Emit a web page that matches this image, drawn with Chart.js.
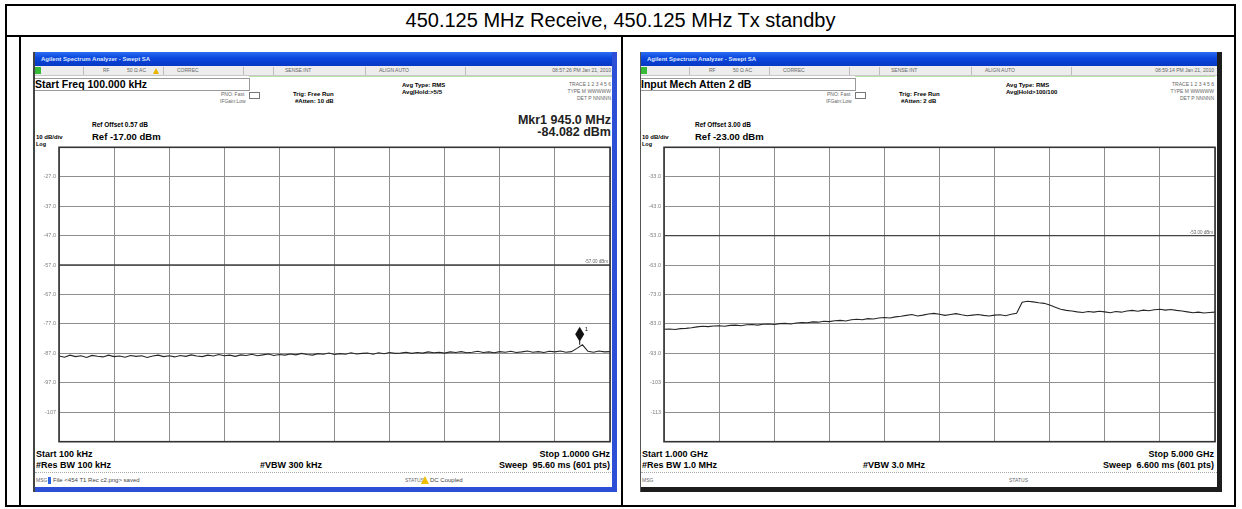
<!DOCTYPE html>
<html>
<head>
<meta charset="utf-8">
<script src="https://cdn.jsdelivr.net/npm/chart.js@4.4.0/dist/chart.umd.min.js"></script>
<style>
  html, body { margin: 0; padding: 0; background: #fff; }
  body { width: 1242px; height: 509px; position: relative; overflow: hidden; font-family: "Liberation Sans", Arial, sans-serif; }
  .abs { position: absolute; }
  .t { position: absolute; white-space: nowrap; line-height: 1; color: #000; }
  .r { text-align: right; }
  .b { font-weight: bold; }
  .tiny { font-size: 5px; color: #666; }
  .shot { position: absolute; background: #fff; overflow: hidden; }
  .titlebar { position: absolute; left: 0; top: 0; right: 0; height: 14px;
    background: linear-gradient(#2d6ef2, #0a46dc 45%, #0738c4); }
  .toolbar { position: absolute; left: 0; top: 14px; right: 0; height: 9px; background: #ededed; border-bottom: 1px solid #c8c8c8; }
  .sep { position: absolute; top: 15px; width: 1px; height: 8px; background: #bdbdbd; }
  .afbox { position: absolute; left: 0; top: 26px; width: 214px; height: 11px; border: 1px solid #9a9a9a; border-left: none; }
  .dots { position: absolute; left: 0; top: 420px; width: 576px; border-top: 1px dotted #a8a8a8; }
  canvas { position: absolute; }
</style>
</head>
<body>

<!-- table grid -->
<div class="abs" style="left:5px;top:4px;width:1231px;height:503px;border:2px solid #000;box-sizing:border-box;"></div>
<div class="abs" style="left:5px;top:35px;width:1231px;height:2px;background:#000;"></div>
<div class="abs" style="left:19px;top:35px;width:2px;height:472px;background:#000;"></div>
<div class="abs" style="left:621px;top:35px;width:2px;height:472px;background:#000;"></div>
<div class="t" style="left:5px;top:10px;width:1231px;text-align:center;font-size:20px;">450.125 MHz Receive, 450.125 MHz Tx standby</div>

<!-- left analyzer screen -->
<div class="shot" id="shotL" style="left:33px;top:52px;width:584px;height:440px;border-left:2px solid #444;box-sizing:border-box;">
  <div class="titlebar"></div>
  <div class="t b" style="left:6px;top:4px;font-size:6px;color:#dfe8ff;">Agilent Spectrum Analyzer - Swept SA</div>
  <div class="toolbar"></div>
  <div class="abs" style="left:0;top:15px;width:6px;height:7px;background:#36b936;"></div>
  <div class="sep" style="left:48px"></div><div class="sep" style="left:128px"></div><div class="sep" style="left:208px"></div>
  <div class="sep" style="left:238px"></div><div class="sep" style="left:330px"></div><div class="sep" style="left:430px"></div>
  <div class="t tiny" style="left:68px;top:16px;">RF</div>
  <div class="t tiny" style="left:92px;top:16px;">50 Ω  AC</div>
  <div class="abs" style="left:118px;top:16px;width:0;height:0;border-left:3px solid transparent;border-right:3px solid transparent;border-bottom:6px solid #e7b400;"></div>
  <div class="t tiny" style="left:142px;top:16px;">CORREC</div>
  <div class="t tiny" style="left:250px;top:16px;">SENSE:INT</div>
  <div class="t tiny" style="left:344px;top:16px;">ALIGN AUTO</div>
  <div class="t tiny r" style="right:6px;top:16px;">08:57:26 PM Jan 21, 2010</div>
  <div class="abs" style="left:214px;top:24px;width:364px;height:1px;background:#b6e2a8;"></div>
  <div class="afbox"></div>
  <div class="t b" style="left:0;top:27px;font-size:10.5px;">Start Freq 100.000 kHz</div>
  <div class="t tiny" style="left:186px;top:40px;">PNO: Fast</div>
  <div class="abs" style="left:214px;top:40px;width:9px;height:5px;border:1px solid #777;"></div>
  <div class="t tiny" style="left:185px;top:47px;">IFGain:Low</div>
  <div class="t b" style="left:258px;top:39px;font-size:6px;">Trig: Free Run</div>
  <div class="t b" style="left:260px;top:46px;font-size:6px;">#Atten: 10 dB</div>
  <div class="t b" style="left:367px;top:30px;font-size:6px;">Avg Type: RMS</div>
  <div class="t b" style="left:367px;top:37px;font-size:6px;">Avg|Hold:&gt;5/5</div>
  <div class="t tiny r" style="right:6px;top:30px;">TRACE 1 2 3 4 5 6</div>
  <div class="t tiny r" style="right:6px;top:37px;">TYPE M WWWWW</div>
  <div class="t tiny r" style="right:6px;top:44px;">DET P NNNNN</div>
  <div class="t b" style="left:57px;top:70px;font-size:6.5px;">Ref Offset 0.57 dB</div>
  <div class="t b" style="left:1px;top:82px;font-size:6px;">10 dB/div</div>
  <div class="t b" style="left:57px;top:80px;font-size:9.5px;">Ref -17.00 dBm</div>
  <div class="t b" style="left:1px;top:90px;font-size:5.5px;">Log</div>
  <div class="t b r" style="right:6px;top:62px;font-size:12.5px;color:#222;">Mkr1 945.0 MHz</div>
  <div class="t b r" style="right:6px;top:74px;font-size:12.5px;color:#222;">-84.082 dBm</div>
  <canvas id="chartL" width="580" height="307" style="left:-1px;top:89px;"></canvas>
  <div class="t b" style="left:1px;top:398px;font-size:9px;">Start 100 kHz</div>
  <div class="t b" style="left:1px;top:409px;font-size:9px;">#Res BW 100 kHz</div>
  <div class="t b" style="left:225px;top:409px;font-size:9px;">#VBW 300 kHz</div>
  <div class="t b r" style="right:7px;top:398px;font-size:9px;">Stop 1.0000 GHz</div>
  <div class="t b r" style="right:7px;top:409px;font-size:9px;">Sweep&nbsp; 95.60 ms (601 pts)</div>
  <div class="dots"></div>
  <div class="t tiny" style="left:1px;top:426px;">MSG</div>
  <div class="abs" style="left:13px;top:425px;width:3px;height:7px;background:#2b62e0;"></div>
  <div class="t" style="left:18px;top:425px;font-size:6px;color:#444;">File &lt;454 T1 Rec c2.png&gt; saved</div>
  <div class="t tiny" style="left:370px;top:426px;">STATUS</div>
  <div class="abs" style="left:386px;top:424px;width:0;height:0;border-left:4px solid transparent;border-right:4px solid transparent;border-bottom:8px solid #f0c000;"></div>
  <div class="t" style="left:395px;top:425px;font-size:6px;color:#444;">DC Coupled</div>
  <div class="abs" style="right:0;top:0;width:5px;height:440px;background:#2c4fd6;"></div>
  <div class="abs" style="left:0;bottom:0;width:584px;height:5px;background:#2c4fd6;"></div>
</div>

<!-- right analyzer screen -->
<div class="shot" id="shotR" style="left:640px;top:52px;width:582px;height:440px;border-left:1px solid #555;box-sizing:border-box;">
  <div class="titlebar"></div>
  <div class="t b" style="left:6px;top:4px;font-size:6px;color:#dfe8ff;">Agilent Spectrum Analyzer - Swept SA</div>
  <div class="toolbar"></div>
  <div class="abs" style="left:0;top:15px;width:6px;height:7px;background:#36b936;"></div>
  <div class="sep" style="left:48px"></div><div class="sep" style="left:128px"></div><div class="sep" style="left:208px"></div>
  <div class="sep" style="left:238px"></div><div class="sep" style="left:330px"></div><div class="sep" style="left:430px"></div>
  <div class="t tiny" style="left:68px;top:16px;">RF</div>
  <div class="t tiny" style="left:92px;top:16px;">50 Ω  AC</div>
  <div class="t tiny" style="left:142px;top:16px;">CORREC</div>
  <div class="t tiny" style="left:250px;top:16px;">SENSE:INT</div>
  <div class="t tiny" style="left:344px;top:16px;">ALIGN AUTO</div>
  <div class="t tiny r" style="right:8px;top:16px;">08:59:14 PM Jan 21, 2010</div>
  <div class="abs" style="left:214px;top:24px;width:360px;height:1px;background:#b6e2a8;"></div>
  <div class="afbox"></div>
  <div class="t b" style="left:0;top:27px;font-size:10.5px;">Input Mech Atten 2 dB</div>
  <div class="t tiny" style="left:186px;top:40px;">PNO: Fast</div>
  <div class="abs" style="left:214px;top:40px;width:9px;height:5px;border:1px solid #777;"></div>
  <div class="t tiny" style="left:185px;top:47px;">IFGain:Low</div>
  <div class="t b" style="left:258px;top:39px;font-size:6px;">Trig: Free Run</div>
  <div class="t b" style="left:260px;top:46px;font-size:6px;">#Atten: 2 dB</div>
  <div class="t b" style="left:365px;top:30px;font-size:6px;">Avg Type: RMS</div>
  <div class="t b" style="left:365px;top:37px;font-size:6px;">Avg|Hold&gt;100/100</div>
  <div class="t tiny r" style="right:8px;top:30px;">TRACE 1 2 3 4 5 6</div>
  <div class="t tiny r" style="right:8px;top:37px;">TYPE M WWWWW</div>
  <div class="t tiny r" style="right:8px;top:44px;">DET P NNNNN</div>
  <div class="t b" style="left:54px;top:70px;font-size:6.5px;">Ref Offset 3.00 dB</div>
  <div class="t b" style="left:1px;top:82px;font-size:6px;">10 dB/div</div>
  <div class="t b" style="left:54px;top:80px;font-size:9.5px;">Ref -23.00 dBm</div>
  <div class="t b" style="left:1px;top:90px;font-size:5.5px;">Log</div>
  <canvas id="chartR" width="579" height="307" style="left:-1px;top:89px;"></canvas>
  <div class="t b" style="left:1px;top:398px;font-size:9px;">Start 1.000 GHz</div>
  <div class="t b" style="left:1px;top:409px;font-size:9px;">#Res BW 1.0 MHz</div>
  <div class="t b" style="left:222px;top:409px;font-size:9px;">#VBW 3.0 MHz</div>
  <div class="t b r" style="right:8px;top:398px;font-size:9px;">Stop 5.000 GHz</div>
  <div class="t b r" style="right:8px;top:409px;font-size:9px;">Sweep&nbsp; 6.600 ms (601 pts)</div>
  <div class="dots"></div>
  <div class="t tiny" style="left:1px;top:426px;">MSG</div>
  <div class="t tiny" style="left:368px;top:426px;">STATUS</div>
  <div class="abs" style="right:0;top:0;width:5px;height:440px;background:#1d1d1d;"></div>
  <div class="abs" style="left:0;bottom:0;width:582px;height:5px;background:#1d1d1d;"></div>
</div>

<script>
// Left screen: 100 kHz .. 1 GHz sweep (MHz), ref -17 dBm, 10 dB/div
const leftStartMHz = 0.1;
const leftStopMHz = 1000;
const leftRefDbm = -17;
const leftTickValues = [-27, -37, -47, -57, -67, -77, -87, -97, -107];
const leftTickLabels = ['-27.0', '-37.0', '-47.0', '-57.0', '-67.0', '-77.0', '-87.0', '-97.0', '-107'];
const leftTrace = [
  -87.9, -88.3, -87.6, -88.1, -87.8, -88.4, -87.7, -88.0, -88.2, -87.6,
  -88.1, -87.9, -88.3, -87.7, -88.0, -87.8, -88.4, -87.9, -87.6, -88.1,
  -87.8, -88.2, -87.7, -88.0, -87.5, -87.9, -88.1, -87.6, -87.9, -87.4,
  -87.8, -87.6, -88.0, -87.5, -87.7, -87.3, -87.8, -87.5, -87.2, -87.7,
  -87.4, -87.6, -87.2, -87.5, -87.0, -87.4, -87.6, -87.1, -87.3, -86.9,
  -87.4, -87.1, -87.3, -86.8, -87.2, -87.0, -86.9, -87.3, -86.8, -87.1,
  -86.7, -87.0, -86.9, -86.6, -87.0, -86.7, -86.9, -86.5, -86.8, -86.6,
  -86.9, -86.5, -86.7, -86.4, -86.8, -86.6, -86.3, -86.7, -86.5, -86.8,
  -86.4, -86.6, -86.3, -86.7, -86.5, -86.2, -86.6, -86.4, -86.7, -86.3,
  -86.5, -86.2, -86.6, -86.4, -85.3, -84.1, -86.3, -86.6, -86.2, -86.5,
  -86.4
];
const leftMarkerMHz = 945.0;
const leftMarkerDbm = -84.082;
const leftDisplayLineDbm = -57;
const leftDisplayLineText = '-57.00 dBm';

// Right screen: 1 GHz .. 5 GHz sweep (GHz), ref -23 dBm, 10 dB/div
const rightStartGHz = 1.0;
const rightStopGHz = 5.0;
const rightRefDbm = -23;
const rightTickValues = [-33, -43, -53, -63, -73, -83, -93, -103, -113];
const rightTickLabels = ['-33.0', '-43.0', '-53.0', '-63.0', '-73.0', '-83.0', '-93.0', '-103', '-113'];
const rightTrace = [
  -84.8, -84.7, -84.9, -84.6, -84.5, -84.3, -84.0, -83.8, -83.9, -83.7,
  -83.6, -83.8, -83.5, -83.4, -83.6, -83.3, -83.2, -83.4, -83.1, -83.0,
  -83.2, -82.9, -82.8, -83.0, -82.7, -82.5, -82.6, -82.3, -82.4, -82.1,
  -82.2, -81.9, -81.8, -82.0, -81.6, -81.4, -81.6, -81.2, -81.3, -81.0,
  -80.8, -81.0, -80.6, -80.4, -80.1, -79.8, -80.3, -80.0, -79.6, -79.4,
  -79.7, -80.1, -79.8, -79.5, -79.9, -80.2, -80.0, -79.8, -80.1, -80.3,
  -80.0, -79.9, -80.2, -79.7, -79.4, -75.6, -75.3, -75.5, -75.8, -76.0,
  -76.6, -77.3, -78.0, -78.4, -78.6, -78.9, -79.1, -78.8, -79.0, -78.7,
  -78.9, -79.2, -78.8, -79.0, -78.6, -78.4, -78.7, -78.3, -78.5, -78.2,
  -78.0, -78.3, -78.1, -78.4, -78.6, -78.9, -79.2, -79.0, -79.3, -79.1,
  -79.0
];
const rightDisplayLineDbm = -53;
const rightDisplayLineText = '-53.00 dBm';

// frame, display-line label and marker drawn on top of the plot
const saOverlay = {
  id: 'saOverlay',
  afterDatasetsDraw(chart, args, opts) {
    const { ctx, chartArea: a, scales } = chart;
    ctx.save();
    ctx.strokeStyle = '#333';
    ctx.lineWidth = 1.6;
    ctx.strokeRect(a.left, a.top, a.right - a.left, a.bottom - a.top);

    const yd = scales.y.getPixelForValue(opts.displayLine);
    ctx.font = '4.5px "Liberation Sans", Arial';
    ctx.fillStyle = '#666';
    ctx.textAlign = 'right';
    ctx.fillText(opts.displayText, a.right - 2, yd - 2);

    if (opts.marker) {
      const mx = scales.x.getPixelForValue(opts.marker.x);
      const my = scales.y.getPixelForValue(opts.marker.y);
      ctx.fillStyle = '#111';
      ctx.beginPath();
      ctx.moveTo(mx, my - 18);
      ctx.lineTo(mx + 4.5, my - 10.5);
      ctx.lineTo(mx, my - 3);
      ctx.lineTo(mx - 4.5, my - 10.5);
      ctx.closePath();
      ctx.fill();
      ctx.fillRect(mx - 0.5, my - 4, 1, 4);
      ctx.font = '6px "Liberation Sans", Arial';
      ctx.textAlign = 'left';
      ctx.fillText('1', mx + 5, my - 14);
    }
    ctx.restore();
  }
};

function buildScreen(canvasId, cfg) {
  const n = cfg.trace.length;
  const step = (cfg.stop - cfg.start) / (n - 1);
  const tracePts = cfg.trace.map((v, i) => ({ x: cfg.start + i * step, y: v }));
  const linePts = [{ x: cfg.start, y: cfg.displayLine }, { x: cfg.stop, y: cfg.displayLine }];
  const bottom = cfg.ref - 100;

  return new Chart(document.getElementById(canvasId), {
    type: 'line',
    data: {
      datasets: [
        { data: linePts, borderColor: '#444', borderWidth: 1.4, pointRadius: 0 },
        { data: tracePts, borderColor: '#262626', borderWidth: 1.1, pointRadius: 0, tension: 0 }
      ]
    },
    options: {
      responsive: false,
      animation: false,
      events: [],
      layout: { padding: { top: 5, right: 4, bottom: 4, left: 0 } },
      plugins: {
        legend: { display: false },
        tooltip: { enabled: false },
        saOverlay: { displayLine: cfg.displayLine, displayText: cfg.displayText, marker: cfg.marker }
      },
      scales: {
        x: {
          type: 'linear',
          min: cfg.start,
          max: cfg.stop,
          afterBuildTicks: axis => {
            const t = [];
            for (let i = 0; i <= 10; i++) t.push({ value: cfg.start + i * (cfg.stop - cfg.start) / 10 });
            axis.ticks = t;
          },
          afterFit: axis => { axis.height = 0; },
          ticks: { display: false },
          grid: { color: '#8e8e8e', lineWidth: 1, drawTicks: false },
          border: { display: false }
        },
        y: {
          type: 'linear',
          min: bottom,
          max: cfg.ref,
          afterBuildTicks: axis => {
            const t = [];
            for (let v = bottom; v <= cfg.ref; v += 10) t.push({ value: v });
            axis.ticks = t;
          },
          afterFit: axis => { axis.width = cfg.axisWidth; },
          ticks: {
            autoSkip: false,
            padding: 3,
            color: '#808080',
            font: { size: 5.5, family: '"Liberation Sans", Arial' },
            callback: v => {
              const i = cfg.tickValues.indexOf(v);
              return i >= 0 ? cfg.tickLabels[i] : '';
            }
          },
          grid: { color: '#8e8e8e', lineWidth: 1, drawTicks: false },
          border: { display: false }
        }
      }
    },
    plugins: [saOverlay]
  });
}

buildScreen('chartL', {
  start: leftStartMHz, stop: leftStopMHz, ref: leftRefDbm,
  tickValues: leftTickValues, tickLabels: leftTickLabels,
  trace: leftTrace,
  displayLine: leftDisplayLineDbm, displayText: leftDisplayLineText,
  marker: { x: leftMarkerMHz, y: leftMarkerDbm },
  axisWidth: 25
});

buildScreen('chartR', {
  start: rightStartGHz, stop: rightStopGHz, ref: rightRefDbm,
  tickValues: rightTickValues, tickLabels: rightTickLabels,
  trace: rightTrace,
  displayLine: rightDisplayLineDbm, displayText: rightDisplayLineText,
  marker: null,
  axisWidth: 24
});
</script>
</body>
</html>
